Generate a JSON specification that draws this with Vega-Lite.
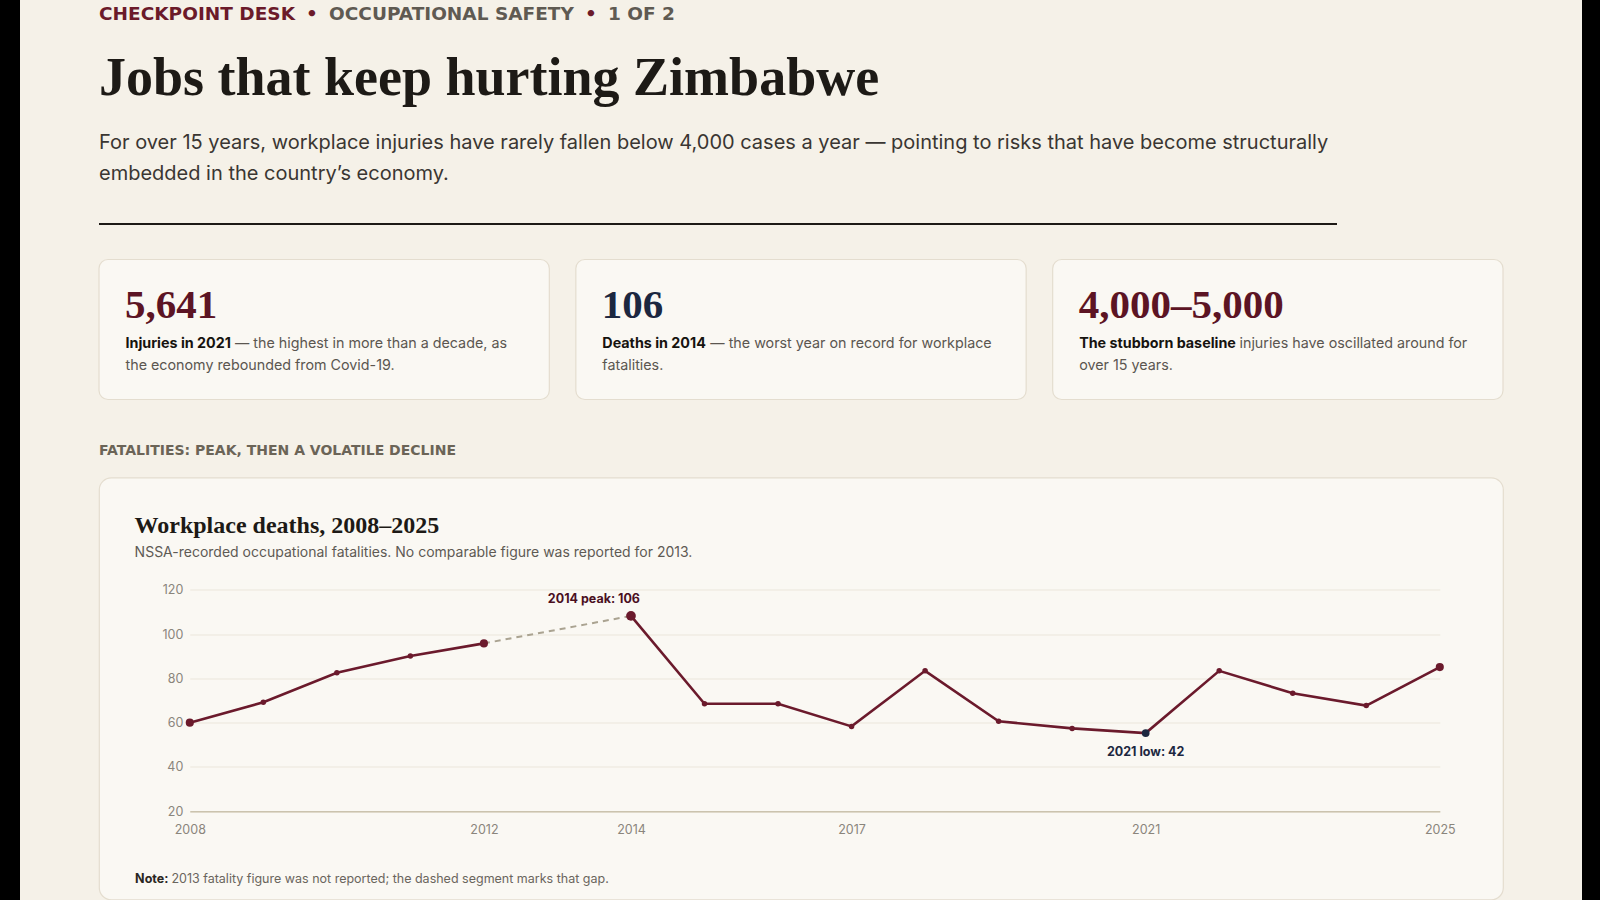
{
  "$schema": "https://vega.github.io/schema/vega-lite/v6.json",
  "background": "#f5f1e8",
  "padding": 0,
  "spacing": 78,
  "config": {
    "view": {"stroke": null},
    "font": "Inter",
    "title": {"anchor": "start", "frame": "group"},
    "axis": {"labelFont": "Inter", "titleFont": "Inter"}
  },
  "resolve": {"scale": {"color": "independent", "size": "independent"}},
  "hconcat": [
    {
      "width": 20,
      "height": 900,
      "view": {"fill": "#000000", "stroke": null},
      "data": {"values": []},
      "mark": "rule",
      "encoding": {}
    },
    {
      "spacing": 33.5,
      "resolve": {"scale": {"color": "independent", "size": "independent"}},
      "vconcat": [
        {
          "spacing": 27,
          "vconcat": [
            {
              "spacing": 11,
              "hconcat": [
                {
                  "width": 1, "height": 5,
                  "data": {"values": []}, "mark": "rule", "encoding": {},
                  "title": {"text": "CHECKPOINT DESK", "orient": "bottom", "offset": 0, "font": "DejaVu Sans", "fontSize": 18.5, "fontWeight": "bold", "color": "#6b1a2a"}
                },
                {
                  "width": 1, "height": 5,
                  "data": {"values": []}, "mark": "rule", "encoding": {},
                  "title": {"text": "•", "orient": "bottom", "offset": 0, "font": "DejaVu Sans", "fontSize": 18.5, "fontWeight": "bold", "color": "#6b1a2a"}
                },
                {
                  "width": 1, "height": 5,
                  "data": {"values": []}, "mark": "rule", "encoding": {},
                  "title": {"text": "OCCUPATIONAL SAFETY", "orient": "bottom", "offset": 0, "font": "DejaVu Sans", "fontSize": 18.5, "fontWeight": "bold", "color": "#5f5a52"}
                },
                {
                  "width": 1, "height": 5,
                  "data": {"values": []}, "mark": "rule", "encoding": {},
                  "title": {"text": "•", "orient": "bottom", "offset": 0, "font": "DejaVu Sans", "fontSize": 18.5, "fontWeight": "bold", "color": "#6b1a2a"}
                },
                {
                  "width": 1, "height": 5,
                  "data": {"values": []}, "mark": "rule", "encoding": {},
                  "title": {"text": "1 OF 2", "orient": "bottom", "offset": 0, "font": "DejaVu Sans", "fontSize": 18.5, "fontWeight": "bold", "color": "#5f5a52"}
                }
              ]
            },
            {
              "width": 1238,
              "height": 2,
              "view": {"fill": "#1d1a16", "stroke": null},
              "data": {"values": []},
              "mark": "rule",
              "encoding": {},
              "title": {
                "text": "Jobs that keep hurting Zimbabwe",
                "subtitle": [
                  "For over 15 years, workplace injuries have rarely fallen below 4,000 cases a year — pointing to risks that have become structurally",
                  "embedded in the country’s economy."
                ],
                "font": "Liberation Serif",
                "fontSize": 54,
                "fontWeight": "bold",
                "color": "#1d1a16",
                "subtitleFont": "Inter",
                "subtitleFontSize": 20,
                "subtitleColor": "#3a3632",
                "subtitleLineHeight": 30.6,
                "subtitlePadding": 27.5,
                "offset": 39
              }
            }
          ]
        },
        {
          "spacing": 43,
          "resolve": {"scale": {"color": "independent", "size": "independent"}},
          "vconcat": [
            {
              "width": 1404,
              "height": 140,
              "data": {
                "values": [
                  {"card": "1", "figure": "5,641", "measure": "injuries", "lead": "Injuries in 2021", "detail1": "— the highest in more than a decade, as", "detail2": "the economy rebounded from Covid-19."},
                  {"card": "2", "figure": "106", "measure": "deaths", "lead": "Deaths in 2014", "detail1": "— the worst year on record for workplace", "detail2": "fatalities."},
                  {"card": "3", "figure": "4,000–5,000", "measure": "injuries", "lead": "The stubborn baseline", "detail1": "injuries have oscillated around for", "detail2": "over 15 years."}
                ]
              },
              "layer": [
                {
                  "mark": {"type": "rect", "cornerRadius": 9, "fill": "#faf8f3", "stroke": "#e4ddcf", "strokeWidth": 1.2},
                  "encoding": {
                    "x": {"field": "card", "type": "nominal", "axis": null, "scale": {"paddingInner": 0.0556, "paddingOuter": 0}}
                  }
                },
                {
                  "mark": {"type": "text", "font": "Liberation Serif", "fontSize": 41, "fontWeight": "bold", "align": "left", "baseline": "alphabetic", "dx": 26, "dy": -11.3},
                  "encoding": {
                    "x": {"field": "card", "type": "nominal", "bandPosition": 0},
                    "text": {"field": "figure"},
                    "color": {"field": "measure", "type": "nominal", "scale": {"domain": ["injuries", "deaths"], "range": ["#5c1424", "#1c2740"]}, "legend": null}
                  }
                },
                {
                  "mark": {"type": "text", "font": "Inter", "fontSize": 14.3, "fontWeight": "bold", "color": "#16130f", "align": "left", "baseline": "alphabetic", "dx": 26.5, "dy": 18.7},
                  "encoding": {
                    "x": {"field": "card", "type": "nominal", "bandPosition": 0},
                    "text": {"field": "lead"}
                  }
                },
                {
                  "transform": [{"filter": {"field": "card", "equal": "1"}}],
                  "mark": {"type": "text", "font": "Inter", "fontSize": 14.3, "color": "#5b5650", "align": "left", "baseline": "alphabetic", "dx": 136, "dy": 18.7},
                  "encoding": {
                    "x": {"field": "card", "type": "nominal", "bandPosition": 0},
                    "text": {"field": "detail1"}
                  }
                },
                {
                  "transform": [{"filter": {"field": "card", "equal": "2"}}],
                  "mark": {"type": "text", "font": "Inter", "fontSize": 14.3, "color": "#5b5650", "align": "left", "baseline": "alphabetic", "dx": 134.5, "dy": 18.7},
                  "encoding": {
                    "x": {"field": "card", "type": "nominal", "bandPosition": 0},
                    "text": {"field": "detail1"}
                  }
                },
                {
                  "transform": [{"filter": {"field": "card", "equal": "3"}}],
                  "mark": {"type": "text", "font": "Inter", "fontSize": 14.3, "color": "#5b5650", "align": "left", "baseline": "alphabetic", "dx": 186.8, "dy": 18.7},
                  "encoding": {
                    "x": {"field": "card", "type": "nominal", "bandPosition": 0},
                    "text": {"field": "detail1"}
                  }
                },
                {
                  "mark": {"type": "text", "font": "Inter", "fontSize": 14.3, "color": "#5b5650", "align": "left", "baseline": "alphabetic", "dx": 26.5, "dy": 40.3},
                  "encoding": {
                    "x": {"field": "card", "type": "nominal", "bandPosition": 0},
                    "text": {"field": "detail2"}
                  }
                }
              ]
            },
            {
              "title": {
                "text": "FATALITIES: PEAK, THEN A VOLATILE DECLINE",
                "font": "DejaVu Sans",
                "fontSize": 14,
                "fontWeight": "bold",
                "color": "#6b6457",
                "offset": 18.5
              },
              "vconcat": [
                {
                  "width": 1404,
                  "height": 422,
                  "view": {"fill": "#faf8f3", "stroke": "#e4ddcf", "strokeWidth": 1.2, "cornerRadius": 12},
                  "title": {
                    "text": "Workplace deaths, 2008–2025",
                    "subtitle": "NSSA-recorded occupational fatalities. No comparable figure was reported for 2013.",
                    "font": "Liberation Serif",
                    "fontSize": 24,
                    "fontWeight": "bold",
                    "color": "#1d1a16",
                    "subtitleFont": "Inter",
                    "subtitleFontSize": 14,
                    "subtitleColor": "#5e5a54",
                    "subtitlePadding": 8.6,
                    "offset": -82.8,
                    "dx": 35.6
                  },
                  "data": {
                    "values": [
                      {"year": 2008, "deaths": 60.0, "period": "2008–2012", "kind": "endpoint"},
                      {"year": 2009, "deaths": 69.2, "period": "2008–2012", "kind": "regular"},
                      {"year": 2010, "deaths": 82.5, "period": "2008–2012", "kind": "regular"},
                      {"year": 2011, "deaths": 90.1, "period": "2008–2012", "kind": "regular"},
                      {"year": 2012, "deaths": 95.8, "period": "2008–2012", "kind": "endpoint"},
                      {"year": 2014, "deaths": 108.2, "period": "2014–2025", "kind": "peak", "label": "2014 peak: 106"},
                      {"year": 2015, "deaths": 68.5, "period": "2014–2025", "kind": "regular"},
                      {"year": 2016, "deaths": 68.5, "period": "2014–2025", "kind": "regular"},
                      {"year": 2017, "deaths": 58.3, "period": "2014–2025", "kind": "regular"},
                      {"year": 2018, "deaths": 83.4, "period": "2014–2025", "kind": "regular"},
                      {"year": 2019, "deaths": 60.6, "period": "2014–2025", "kind": "regular"},
                      {"year": 2020, "deaths": 57.4, "period": "2014–2025", "kind": "regular"},
                      {"year": 2021, "deaths": 55.3, "period": "2014–2025", "kind": "low", "label": "2021 low: 42"},
                      {"year": 2022, "deaths": 83.4, "period": "2014–2025", "kind": "regular"},
                      {"year": 2023, "deaths": 73.3, "period": "2014–2025", "kind": "regular"},
                      {"year": 2024, "deaths": 67.7, "period": "2014–2025", "kind": "regular"},
                      {"year": 2025, "deaths": 85.1, "period": "2014–2025", "kind": "endpoint"}
                    ]
                  },
                  "encoding": {
                    "x": {
                      "field": "year",
                      "type": "quantitative",
                      "scale": {"domain": [2008, 2025], "range": [90.8, 1340.8], "nice": false, "zero": false},
                      "axis": {
                        "values": [2008, 2012, 2014, 2017, 2021, 2025],
                        "format": "d",
                        "offset": -88.3,
                        "grid": false,
                        "ticks": false,
                        "domainColor": "#cbc3ae",
                        "domainWidth": 1.5,
                        "labelColor": "#8a857c",
                        "labelFontSize": 12.5,
                        "labelPadding": 12,
                        "labelFlush": false,
                        "title": "Note:",
                        "titleX": 35.6,
                        "titleY": 71.1,
                        "titleAlign": "left",
                        "titleBaseline": "alphabetic",
                        "titleFontSize": 12.5,
                        "titleFontWeight": "bold",
                        "titleColor": "#2a2622"
                      }
                    },
                    "y": {
                      "field": "deaths",
                      "type": "quantitative",
                      "scale": {"domain": [20, 120], "range": [333.7, 112.3], "nice": false, "zero": false},
                      "axis": {
                        "values": [20, 40, 60, 80, 100, 120],
                        "offset": -90.8,
                        "domain": false,
                        "ticks": false,
                        "grid": true,
                        "gridColor": "#ebe6db",
                        "gridWidth": 1,
                        "labelColor": "#8a857c",
                        "labelFontSize": 12.5,
                        "labelPadding": 7,
                        "title": "2013 fatality figure was not reported; the dashed segment marks that gap.",
                        "titleAngle": 0,
                        "titleX": -18.9,
                        "titleY": 404.8,
                        "titleAlign": "left",
                        "titleBaseline": "alphabetic",
                        "titleFontSize": 12.5,
                        "titleFontWeight": "normal",
                        "titleColor": "#6a655d"
                      }
                    }
                  },
                  "layer": [
                    {
                      "transform": [{"filter": {"field": "year", "oneOf": [2012, 2014]}}],
                      "mark": {"type": "line", "color": "#aaa391", "strokeDash": [6, 5], "strokeWidth": 2}
                    },
                    {
                      "mark": {"type": "line", "color": "#6b1a2c", "strokeWidth": 2.6},
                      "encoding": {"detail": {"field": "period", "type": "nominal"}}
                    },
                    {
                      "mark": {"type": "point", "filled": true, "opacity": 1},
                      "encoding": {
                        "size": {"field": "kind", "type": "nominal", "scale": {"type": "ordinal", "domain": ["regular", "endpoint", "peak", "low"], "range": [30, 66, 95, 60]}, "legend": null},
                        "color": {"field": "kind", "type": "nominal", "scale": {"domain": ["regular", "endpoint", "peak", "low"], "range": ["#6b1a2c", "#6b1a2c", "#6b1a2c", "#1c2740"]}, "legend": null}
                      }
                    },
                    {
                      "transform": [{"filter": {"field": "kind", "equal": "peak"}}],
                      "mark": {"type": "text", "font": "Inter", "fontSize": 12.5, "fontWeight": "bold", "color": "#4a0f1f", "align": "right", "baseline": "alphabetic", "dx": 9, "dy": -13},
                      "encoding": {"text": {"field": "label"}}
                    },
                    {
                      "transform": [{"filter": {"field": "kind", "equal": "low"}}],
                      "mark": {"type": "text", "font": "Inter", "fontSize": 12.5, "fontWeight": "bold", "color": "#1c2740", "align": "center", "baseline": "alphabetic", "dy": 22.7},
                      "encoding": {"text": {"field": "label"}}
                    }
                  ]
                }
              ]
            }
          ]
        }
      ]
    },
    {
      "width": 20,
      "height": 900,
      "view": {"fill": "#000000", "stroke": null},
      "data": {"values": []},
      "mark": "rule",
      "encoding": {}
    }
  ]
}
